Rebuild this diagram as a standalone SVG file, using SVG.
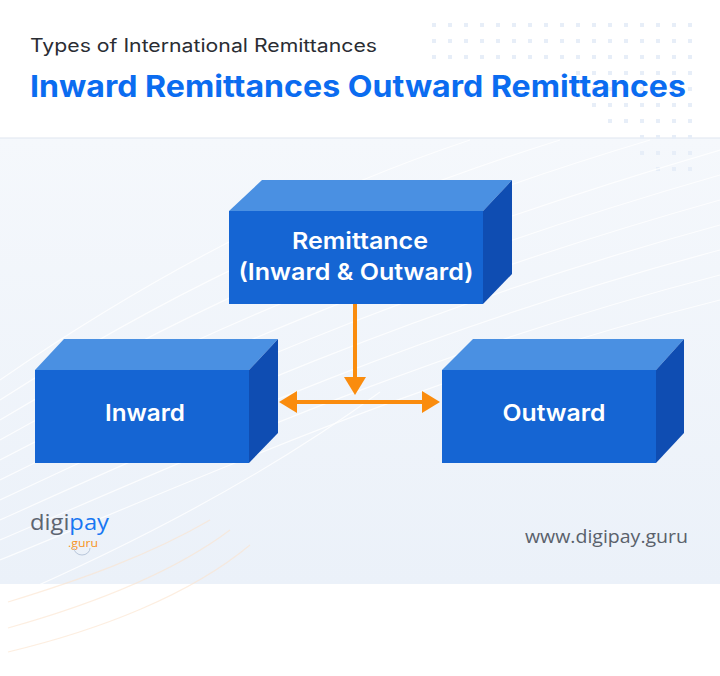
<svg xmlns="http://www.w3.org/2000/svg" width="720" height="676" viewBox="0 0 720 676">
<defs>
<style>
.top{fill:#4A90E2}
.front{fill:#1565D3}
.side{fill:#0F4DB2}
.lbl{font-family:Inter,"Noto Sans","Liberation Sans",sans-serif;font-weight:600;font-size:23px;fill:#FFFFFF;text-anchor:middle}
.conn{stroke:#FA8C0E;stroke-width:4;fill:none}
.dot{fill:#E7EEF8}
.wave{stroke:#FFFFFF;stroke-width:1.2;fill:none;opacity:0.8}
.wave2{stroke:#FBE3CC;stroke-width:1.2;fill:none;opacity:0.6}
</style>
<linearGradient id="panel" x1="0" y1="0" x2="0" y2="1">
<stop offset="0" stop-color="#F5F8FC"/>
<stop offset="1" stop-color="#EBF1F9"/>
</linearGradient>
<marker id="ah" viewBox="0 0 18 22" refX="4" refY="11" markerWidth="18" markerHeight="22" markerUnits="userSpaceOnUse" orient="auto-start-reverse">
<path d="M0,0 L18,11 L0,22 Z" fill="#FA8C0E"/>
</marker>
<pattern id="dots" x="432" y="23" width="16" height="16" patternUnits="userSpaceOnUse">
<rect x="0" y="0" width="4" height="4" class="dot"/>
</pattern>
</defs>

<g id="background">
<rect x="0" y="0" width="720" height="676" fill="#FFFFFF"/>
<rect x="0" y="138" width="720" height="446" fill="url(#panel)"/>
<line x1="0" y1="138" x2="720" y2="138" stroke="#DFE6EF" stroke-width="1.2"/>
<rect x="432" y="23" width="264" height="48" fill="url(#dots)"/>
<rect x="576" y="71" width="120" height="16" fill="url(#dots)"/>
<rect x="592" y="87" width="104" height="32" fill="url(#dots)"/>
<rect x="608" y="119" width="88" height="16" fill="url(#dots)"/>
<rect x="640" y="135" width="56" height="32" fill="url(#dots)"/>
<rect x="656" y="167" width="40" height="16" fill="url(#dots)"/>
<path class="wave" d="M0,520 C200,430 420,330 720,250"/>
<path class="wave" d="M0,540 C210,450 430,350 720,275"/>
<path class="wave" d="M0,560 C220,470 440,370 720,300"/>
<path class="wave" d="M0,500 C190,410 410,310 720,225"/>
<path class="wave" d="M0,480 C180,390 400,290 720,200"/>
<path class="wave" d="M0,460 C170,370 390,270 720,175"/>
<path class="wave" d="M0,440 C160,350 380,250 720,150"/>
<path class="wave" d="M0,420 C150,330 350,230 650,140"/>
<path class="wave" d="M0,400 C140,310 320,215 560,140"/>
<path class="wave" d="M0,380 C130,290 290,200 470,140"/>
<path class="wave" d="M5,600 C120,550 260,480 380,392"/>
<path class="wave2" d="M8,602 C80,580 150,555 210,520"/>
<path class="wave2" d="M8,628 C90,605 170,575 230,530"/>
<path class="wave2" d="M8,652 C100,630 190,595 250,545"/>
</g>

<g id="header">
<text x="30" y="52" font-family="Inter,'Noto Sans','Liberation Sans',sans-serif" font-size="18" fill="#2A2D33" textLength="347" lengthAdjust="spacingAndGlyphs">Types of International Remittances</text>
<text x="30" y="97" font-family="Inter,'Noto Sans','Liberation Sans',sans-serif" font-weight="700" font-size="30" fill="#0B6CF0" textLength="656" lengthAdjust="spacingAndGlyphs">Inward Remittances Outward Remittances</text>
</g>

<g id="connectors">
<path class="conn" d="M355,304 L355,381" marker-end="url(#ah)"/>
<path class="conn" d="M293,402 L426,402" marker-start="url(#ah)" marker-end="url(#ah)"/>
</g>

<g id="node-remittance">
<polygon class="top" points="229,211 262,180 512,180 483,211"/>
<polygon class="side" points="483,211 512,180 512,274 483,304"/>
<rect class="front" x="229" y="211" width="254" height="93"/>
<text class="lbl" x="360" y="249" textLength="136" lengthAdjust="spacingAndGlyphs">Remittance</text>
<text class="lbl" x="356" y="280" textLength="235" lengthAdjust="spacingAndGlyphs">(Inward &amp; Outward)</text>
</g>

<g id="node-inward">
<polygon class="top" points="35,370 64,339 278,339 249,370"/>
<polygon class="side" points="249,370 278,339 278,433 249,463"/>
<rect class="front" x="35" y="370" width="214" height="93"/>
<text class="lbl" x="145" y="421" textLength="80" lengthAdjust="spacingAndGlyphs">Inward</text>
</g>

<g id="node-outward">
<polygon class="top" points="442,370 473,339 684,339 656,370"/>
<polygon class="side" points="656,370 684,339 684,433 656,463"/>
<rect class="front" x="442" y="370" width="214" height="93"/>
<text class="lbl" x="554" y="421" textLength="103" lengthAdjust="spacingAndGlyphs">Outward</text>
</g>

<g id="footer">
<text x="30" y="530" font-family="'Open Sans','Noto Sans','Liberation Sans',sans-serif" font-size="22" textLength="79" lengthAdjust="spacingAndGlyphs"><tspan fill="#5E6571">digi</tspan><tspan fill="#1877F2">pay</tspan></text>
<text x="68" y="547" font-family="'Open Sans','Noto Sans','Liberation Sans',sans-serif" font-size="11" fill="#F7941D" textLength="30" lengthAdjust="spacingAndGlyphs">.guru</text>
<path d="M74,548 A8,7 0 0 0 90,548" fill="none" stroke="#B8C6DA" stroke-width="1"/>
<text x="525" y="543" font-family="'Open Sans','Noto Sans','Liberation Sans',sans-serif" font-size="18" fill="#5A616B" textLength="163" lengthAdjust="spacingAndGlyphs">www.digipay.guru</text>
</g>
</svg>
